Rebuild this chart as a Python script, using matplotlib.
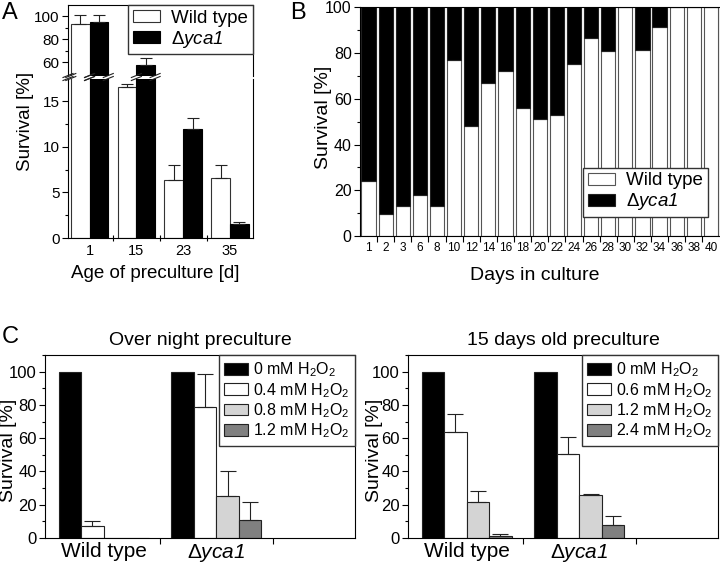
import numpy as np
import matplotlib
matplotlib.use("Agg")
import matplotlib.pyplot as plt
from matplotlib.lines import Line2D

plt.rcParams['font.family'] = ['Liberation Sans', 'DejaVu Sans']
plt.rcParams['mathtext.fontset'] = 'custom'
plt.rcParams['mathtext.rm'] = 'Liberation Sans'
plt.rcParams['mathtext.it'] = 'Liberation Sans:italic'
# sf slot used for italic text that also needs italic digits
plt.rcParams['mathtext.sf'] = 'Liberation Sans:italic'
plt.rcParams['axes.linewidth'] = 0.8
plt.rcParams['xtick.major.width'] = 0.8
plt.rcParams['ytick.major.width'] = 0.8
plt.rcParams['ytick.minor.width'] = 0.8

DELTA = r'$\Delta\mathsf{yca1}$'

# --- panel A: survival vs. age of preculture
age_days = ['1', '15', '23', '35']
wt_age = [92.8, 16.6, 6.4, 6.6]
wt_age_err = [8.2, 0.3, 1.6, 1.4]
yca_age = [95.0, 57.4, 12.0, 1.5]
yca_age_err = [6.0, 6.1, 1.2, 0.3]

# --- panel B: survival fraction over days in culture
culture_days = ['1', '2', '3', '6', '8', '10', '12', '14', '16', '18', '20',
                '22', '24', '26', '28', '30', '32', '34', '36', '38', '40']
wt_culture = [24, 9.5, 13, 18, 13, 77, 48, 67, 72, 56, 51,
              53, 75, 86.5, 81, 100, 81.5, 91.5, 100, 100, 100]

# --- panel C: H2O2 treatment
strains = ['Wild type', DELTA]
doses_night = ['0 mM', '0.4 mM', '0.8 mM', '1.2 mM']
night_wt = [100, 7, 0.3, 0]
night_wt_err = [0, 3.5, 0, 0]
night_yca = [100, 78.5, 25, 11]
night_yca_err = [0, 20, 15.5, 10.5]

doses_old = ['0 mM', '0.6 mM', '1.2 mM', '2.4 mM']
old_wt = [100, 64, 21.5, 1.5]
old_wt_err = [0, 10.5, 7, 0.8]
old_yca = [100, 50.5, 25.8, 8]
old_yca_err = [0, 10, 0.5, 5]

W, H = 720, 564
fig = plt.figure(figsize=(W / 100, H / 100), dpi=100)


def rect(x0, y0, x1, y1):
    # pixel box (top-left origin) -> figure fraction rect
    return [x0 / W, 1 - y1 / H, (x1 - x0) / W, (y1 - y0) / H]


# ================= A =================
axA_top = fig.add_axes(rect(68, 5, 253, 75.5))
axA_bot = fig.add_axes(rect(68, 78.5, 253, 238))
xa = np.arange(len(age_days))
bw = 0.4
for ax in (axA_top, axA_bot):
    ax.bar(xa - bw / 2, wt_age, bw, color='white', edgecolor='#333', lw=0.8, label='Wild type')
    ax.bar(xa + bw / 2, yca_age, bw, color='black', edgecolor='black', lw=0.8, label=DELTA)
    ax.errorbar(xa - bw / 2, wt_age, yerr=[np.zeros(4), wt_age_err], fmt='none',
                ecolor='#222', elinewidth=0.8, capsize=4.5, capthick=0.8)
    ax.errorbar(xa + bw / 2, yca_age, yerr=[np.zeros(4), yca_age_err], fmt='none',
                ecolor='#222', elinewidth=0.8, capsize=4.5, capthick=0.8)
    ax.set_xlim(-0.46, 3.49)
    ax.tick_params(axis='y', which='major', direction='out', length=4, labelsize=11, pad=2)
    ax.tick_params(axis='y', which='minor', direction='out', length=2)

axA_top.set_ylim(48.3, 109.6)
axA_top.set_yticks([60, 80, 100])
axA_top.set_yticks([70, 90], minor=True)
axA_top.spines['bottom'].set_visible(False)
axA_top.set_xticks([])

axA_bot.set_ylim(0, 17.5)
axA_bot.set_yticks([0, 5, 10, 15])
axA_bot.set_yticks([2.5, 7.5, 12.5], minor=True)
axA_bot.spines['top'].set_visible(False)
axA_bot.set_xticks(xa[:-1] + 0.5)
axA_bot.set_xticklabels([])
axA_bot.set_xticks(xa, minor=True)
axA_bot.set_xticklabels(age_days, minor=True, fontsize=10.5)
axA_bot.tick_params(axis='x', which='major', direction='inout', length=5)
axA_bot.tick_params(axis='x', which='minor', length=0, pad=4)

axA_top.legend(loc='upper right', borderaxespad=0, fontsize=13.5, fancybox=False,
               edgecolor='#333', framealpha=1, handlelength=1.45, handleheight=0.6,
               labelspacing=0.1, handletextpad=0.6, borderpad=0.25)

# break marks on spine and on bars crossing the gap
inv = fig.transFigure.inverted()
top_lim = axA_bot.get_ylim()[1]
break_x = [axA_bot.transAxes.transform((0, 0))[0]]
for i in range(len(age_days)):
    for left, val in ((xa[i] - bw, wt_age[i]), (xa[i], yca_age[i])):
        if val > top_lim:
            for ex in (left, left + bw):
                break_x.append(axA_bot.transData.transform((ex, 0))[0])
y_up = axA_top.transAxes.transform((0, 0))[1]
y_lo = axA_bot.transAxes.transform((0, 1))[1]
for px in break_x:
    for py in (y_up, y_lo):
        p0 = inv.transform((px - 5, py - 2))
        p1 = inv.transform((px + 5, py + 2))
        fig.add_artist(Line2D([p0[0], p1[0]], [p0[1], p1[1]], color='#222', lw=0.8))

fig.text(25 / W, 1 - 121 / H, 'Survival [%]', rotation=90, ha='center', va='center', fontsize=13.5)
fig.text(155 / W, 1 - 274 / H, 'Age of preculture [d]', ha='center', va='center', fontsize=13.5)
fig.text(2 / W, 1 - 2 / H, 'A', ha='left', va='top', fontsize=17)

# ================= B =================
axB = fig.add_axes(rect(360, 7.3, 719.5, 236))
xb = np.arange(len(culture_days))
dead_culture = [100 - v for v in wt_culture]
axB.bar(xb, wt_culture, 0.83, color='white', edgecolor='#555', lw=0.8, label='Wild type')
axB.bar(xb, dead_culture, 0.83, bottom=wt_culture, color='black', edgecolor='#222', lw=0.8,
        label=DELTA)
axB.set_xlim(-0.5, len(culture_days) - 0.5)
axB.set_ylim(0, 100)
axB.set_yticks(np.arange(0, 101, 20))
axB.set_yticks(np.arange(10, 100, 20), minor=True)
axB.tick_params(axis='y', which='major', direction='out', length=4, labelsize=11.5, pad=2)
axB.tick_params(axis='y', which='minor', direction='out', length=2)
axB.set_xticks(xb[:-1] + 0.5)
axB.set_xticklabels([])
axB.set_xticks(xb, minor=True)
axB.set_xticklabels(culture_days, minor=True, fontsize=8.5)
axB.tick_params(axis='x', which='major', direction='out', length=4)
axB.tick_params(axis='x', which='minor', length=0, pad=4)
axB.legend(loc='lower right', bbox_to_anchor=(0.968, 0.083), borderaxespad=0, fontsize=13.5,
           fancybox=False, edgecolor='#333', framealpha=1, handlelength=1.45,
           handleheight=0.6, labelspacing=0.1, handletextpad=0.6, borderpad=0.25)
fig.text(323 / W, 1 - 117 / H, 'Survival [%]', rotation=90, ha='center', va='center', fontsize=14)
fig.text(535 / W, 1 - 276 / H, 'Days in culture', ha='center', va='center', fontsize=14)
fig.text(290 / W, 1 - 2 / H, 'B', ha='left', va='top', fontsize=17)


# ================= C =================
def dose_panel(ax, title, doses, wt, wt_err, yca, yca_err):
    colors = ['black', 'white', '#d4d4d4', '#808080']
    xs = np.arange(len(strains))
    w = 0.2
    for i in range(len(doses)):
        pos = xs + (i - 1.5) * w
        vals = np.array([wt[i], yca[i]])
        errs = np.array([wt_err[i], yca_err[i]])
        ax.bar(pos, vals, w, color=colors[i], edgecolor='#222', lw=0.8,
               label=doses[i] + r' H$_2$O$_2$')
        m = errs > 0
        if m.any():
            ax.errorbar(pos[m], vals[m], yerr=[np.zeros(m.sum()), errs[m]], fmt='none',
                        ecolor='#222', elinewidth=0.8, capsize=6, capthick=0.8)
    ax.set_xlim(-0.52, 2.23)
    ax.set_ylim(0, 110)
    ax.set_yticks(np.arange(0, 101, 20))
    ax.set_yticks(np.arange(10, 111, 20), minor=True)
    ax.tick_params(axis='y', which='major', direction='out', length=4, labelsize=12, pad=2)
    ax.tick_params(axis='y', which='minor', direction='out', length=2)
    ax.set_xticks([0.5, 1.5])
    ax.set_xticklabels([])
    ax.set_xticks(xs, minor=True)
    ax.set_xticklabels(strains, minor=True, fontsize=15)
    ax.tick_params(axis='x', which='major', direction='out', length=4)
    ax.tick_params(axis='x', which='minor', length=0, pad=3)
    ax.set_title(title, fontsize=14, pad=7)
    ax.legend(loc='upper right', borderaxespad=0, fontsize=11.5, fancybox=False,
              edgecolor='#333', framealpha=1, handlelength=1.5, handleheight=0.75,
              labelspacing=0.1, handletextpad=0.3, borderpad=0.35)


axC1 = fig.add_axes(rect(45, 355, 355, 538))
dose_panel(axC1, 'Over night preculture', doses_night, night_wt, night_wt_err,
           night_yca, night_yca_err)
axC2 = fig.add_axes(rect(408, 355, 718, 538))
dose_panel(axC2, '15 days old preculture', doses_old, old_wt, old_wt_err,
           old_yca, old_yca_err)
fig.text(9 / W, 1 - 450 / H, 'Survival [%]', rotation=90, ha='center', va='center', fontsize=14)
fig.text(374 / W, 1 - 450 / H, 'Survival [%]', rotation=90, ha='center', va='center', fontsize=14)
fig.text(2 / W, 1 - 326 / H, 'C', ha='left', va='top', fontsize=17)

fig.savefig('out.png', dpi=100)
